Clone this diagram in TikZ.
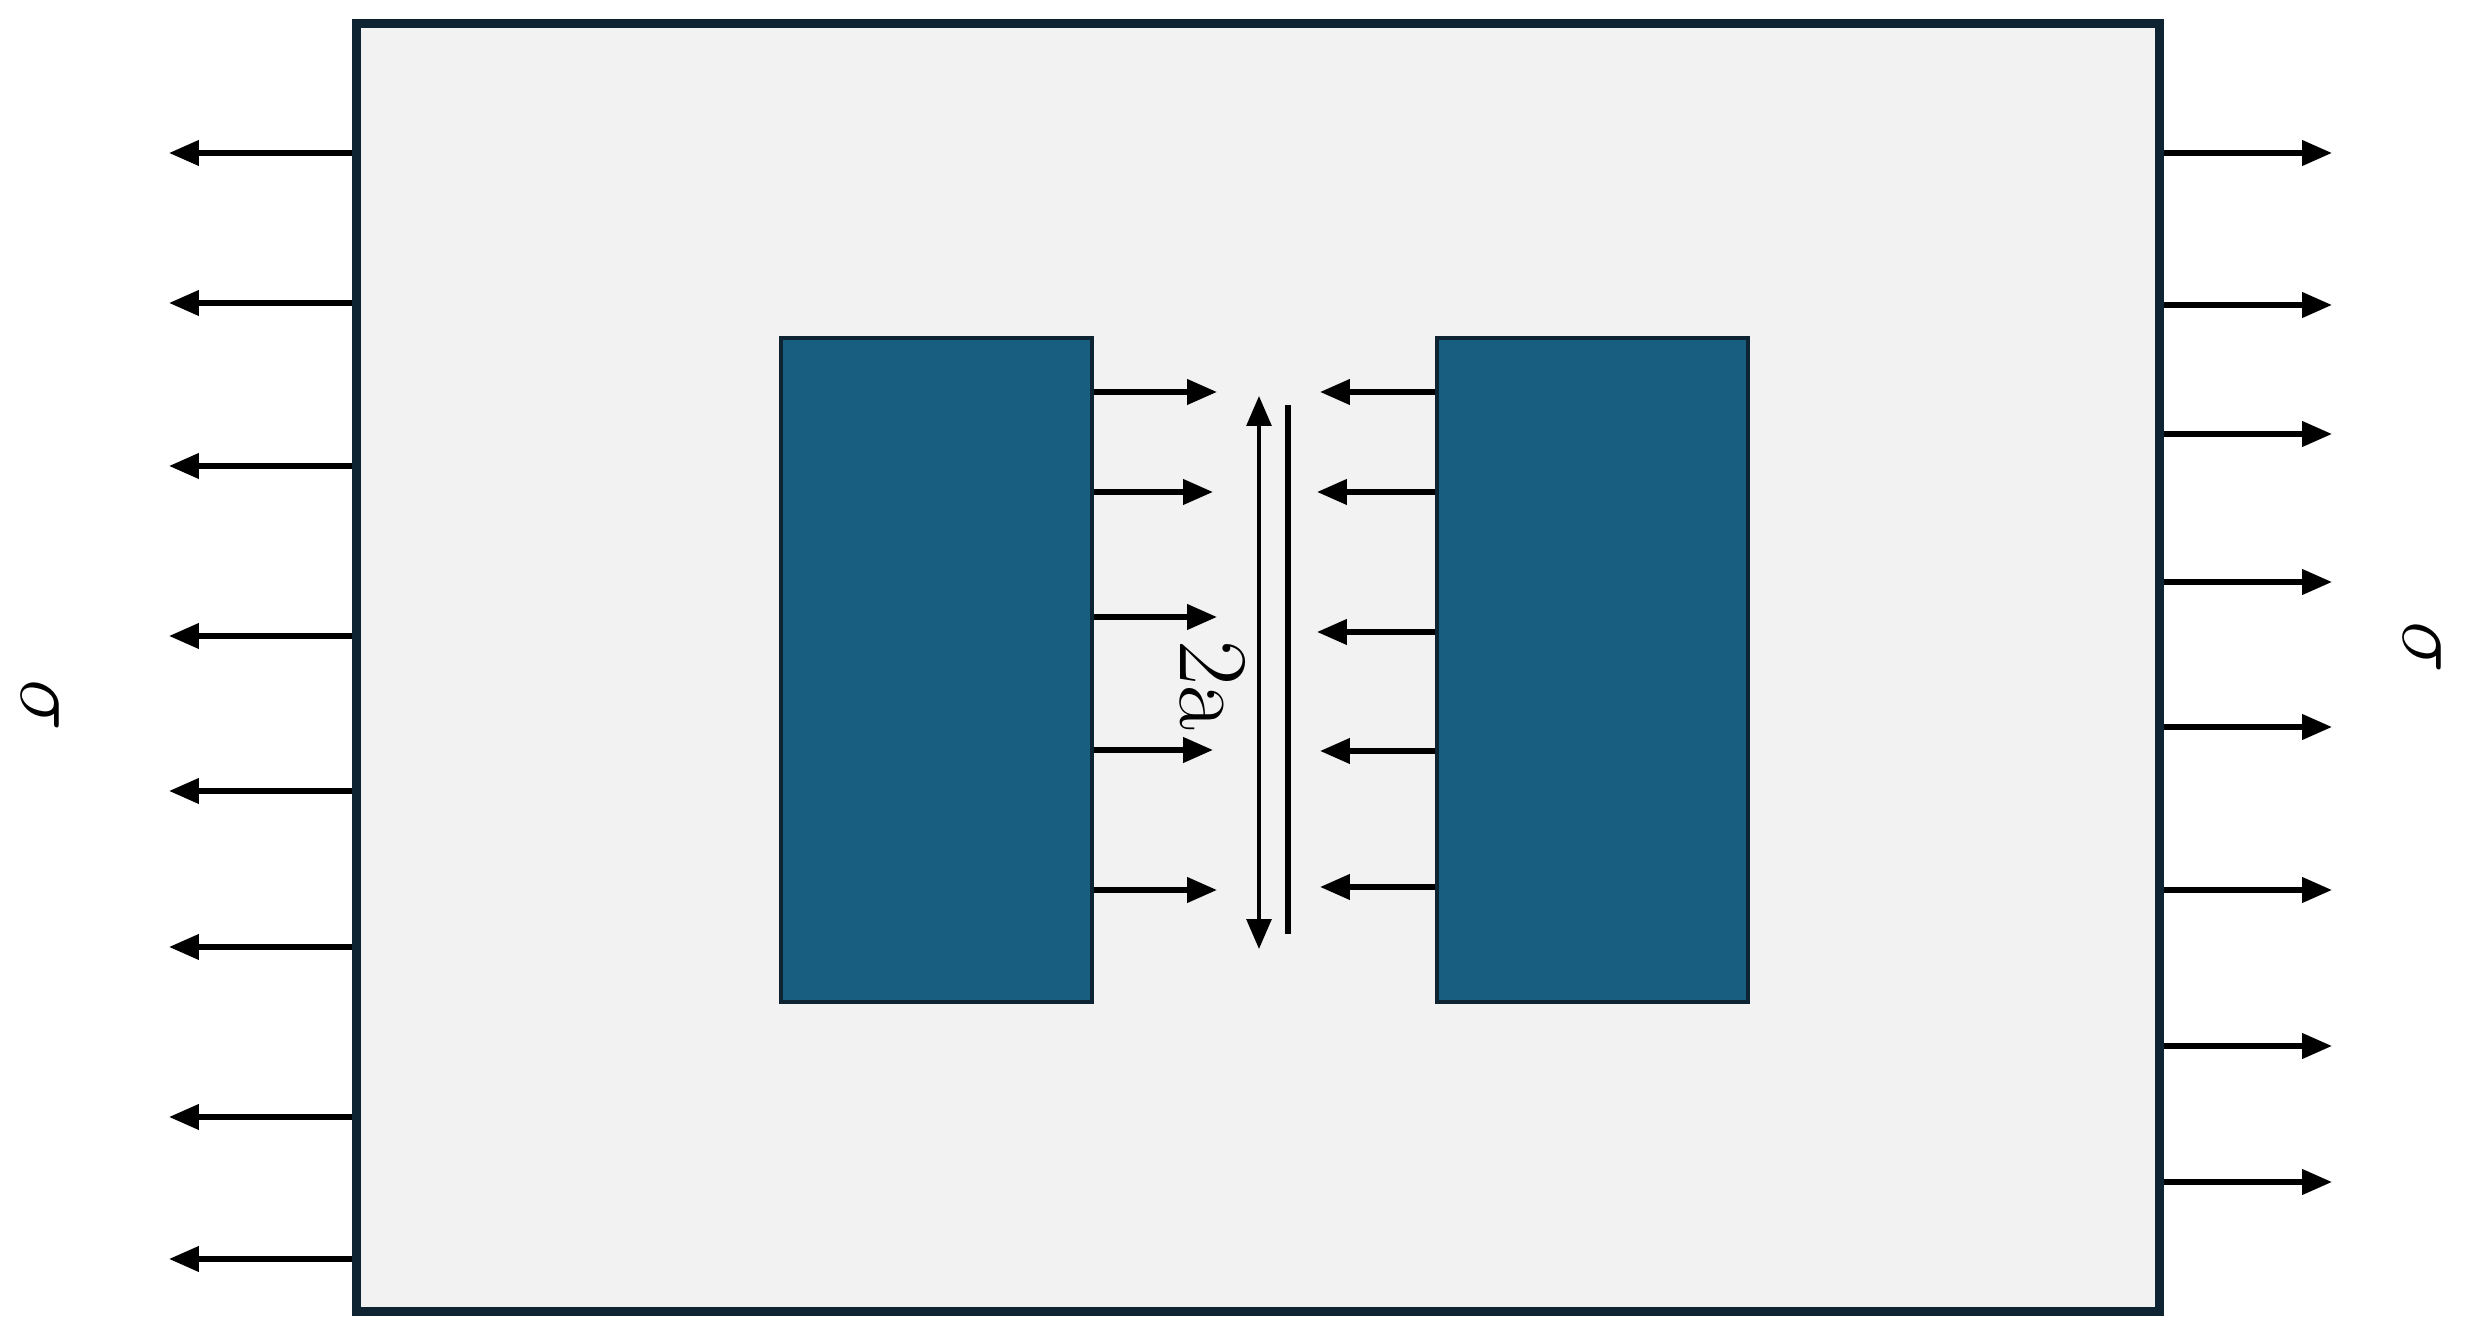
\documentclass[tikz,border=0pt]{standalone}
\usetikzlibrary{arrows.meta}
\definecolor{platefill}{RGB}{242,242,242}
\definecolor{edgenavy}{RGB}{14,36,51}
\definecolor{blockblue}{RGB}{24,94,128}
\tikzset{
  plate/.style={draw=edgenavy,fill=platefill,line width=2.4pt,inner sep=0pt},
  block/.style={draw=edgenavy,fill=blockblue,line width=1.2pt,inner sep=0pt,
    minimum width=3.11cm,minimum height=6.64cm},
  load/.style={->,line width=1.5pt},
  lbl/.style={rotate=-90,inner sep=0pt,font=\fontsize{28}{30}\selectfont},
}
\begin{document}
\begin{tikzpicture}[x=0.01cm,y=-0.01cm,>={Triangle[length=8.5pt,width=7pt]}]
\useasboundingbox (0,0) rectangle (2474,1331);
%%
\node (plate) at (1258,667.5) [plate,minimum width=18.02cm,minimum height=12.87cm] {};
\node (blockL) at (936.5,670) [block] {};
\node (blockR) at (1592.5,670) [block] {};
% remote tension
\foreach \y [count=\i] in {153,303,466,636,791,947,1117,1259} {
  \coordinate (tipW\i) at (169,\y);
  \draw [load] (plate.west |- tipW\i) -- (tipW\i);
}
\foreach \y [count=\i] in {153,305,434,582,727,890,1046,1182} {
  \coordinate (tipE\i) at (2332,\y);
  \draw [load] (plate.east |- tipE\i) -- (tipE\i);
}
% crack face pressure
\foreach \y/\x [count=\i] in {392/1217,492/1213,617/1217,750/1213,890/1217} {
  \coordinate (tipL\i) at (\x,\y);
  \draw [load] (blockL.east |- tipL\i) -- (tipL\i);
}
\foreach \y/\x [count=\i] in {392/1320,492/1317,632/1317,751/1320,887/1320} {
  \coordinate (tipR\i) at (\x,\y);
  \draw [load] (blockR.west |- tipR\i) -- (tipR\i);
}
% crack and its length
\coordinate (crackTop) at (1288,405);
\coordinate (crackBot) at (1288,934);
\draw [line width=1.5pt] (crackTop) -- (crackBot);
\coordinate (dimTop) at (1259,396);
\coordinate (dimBot) at (1259,949);
\draw [<->,line width=1.1pt] (dimTop) -- (dimBot);
\node (dimlbl) at (1213,686) [lbl] {2a};
\node (sigW) at (40,705) [lbl] {$\sigma$};
\node (sigE) at (2422,647) [lbl] {$\sigma$};
%
\end{tikzpicture}
\end{document}
